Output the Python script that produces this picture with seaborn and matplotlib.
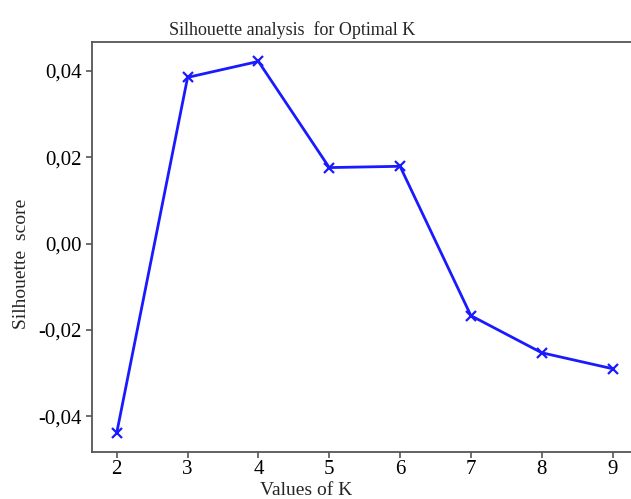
import matplotlib
matplotlib.use("Agg")
import matplotlib.pyplot as plt
import seaborn as sns
import pandas as pd
from matplotlib.ticker import FuncFormatter, FixedLocator

k_values = [2, 3, 4, 5, 6, 7, 8, 9]
silhouette = [-0.0438, 0.0385, 0.0422, 0.0176, 0.0179, -0.0167, -0.0253, -0.0290]
y_ticks = [-0.04, -0.02, 0.00, 0.02, 0.04]

sns.set_style("ticks")
plt.rcParams['font.family'] = ['Liberation Serif', 'DejaVu Serif']

df = pd.DataFrame({"K": k_values, "score": silhouette})

fig = plt.figure(figsize=(6.31, 4.99), dpi=100)
ax_w = (631 - 92) / 631 + 0.01
ax = fig.add_axes([92/631, 47/499, ax_w, (452-42)/499])
ax_w_px = ax_w * 631

sns.lineplot(data=df, x="K", y="score", ax=ax, color="#1a1aff", linewidth=2,
             marker="x", markersize=7, markeredgewidth=1.6, markeredgecolor="#1a1aff")

ax.set_xlim(1.65, 9.35)
ax.set_ylim(-0.0483, 0.0467)
ax.xaxis.set_major_locator(FixedLocator(k_values))
ax.yaxis.set_major_locator(FixedLocator(y_ticks))
ax.yaxis.set_major_formatter(FuncFormatter(lambda v, p: f"{v:.2f}".replace(".", ",")))

for s in ["left", "bottom", "top"]:
    ax.spines[s].set_color("#555555")
    ax.spines[s].set_linewidth(1.3)
ax.spines["right"].set_visible(False)
ax.tick_params(axis="both", colors="#555555", labelcolor="black", labelsize=15,
               length=4, width=1.2)
ax.tick_params(axis="x", pad=2)

ax.set_title("Silhouette analysis  for Optimal K", fontsize=13, pad=5,
             x=(292 - 92) / ax_w_px)
ax.set_xlabel("Values of K", fontsize=14)
ax.set_ylabel("Silhouette  score", fontsize=14)
ax.xaxis.set_label_coords((306 - 92) / ax_w_px, -0.072)
ax.yaxis.set_label_coords(-(92 - 30) / ax_w_px, 0.46)

fig.savefig("out.png", dpi=100)
